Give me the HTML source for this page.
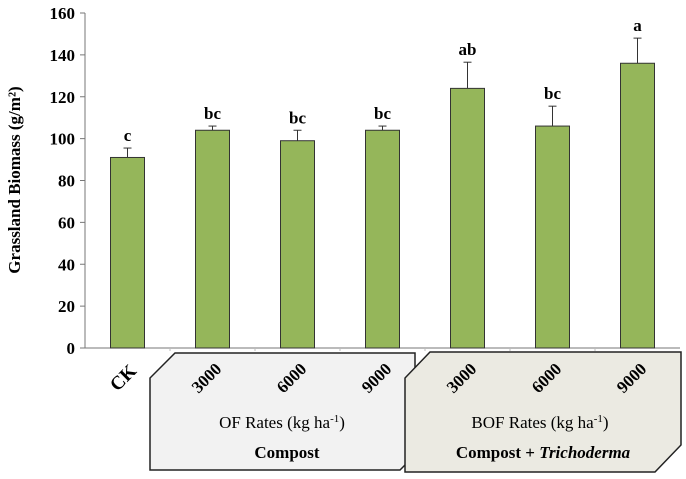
<!DOCTYPE html>
<html><head><meta charset="utf-8"><style>
html,body{margin:0;padding:0;background:#fff;}
svg{display:block;font-family:"Liberation Serif",serif;}
</style></head><body>
<svg id="chart" width="686" height="479"></svg>
<script>
const categories=["CK","3000","6000","9000","3000","6000","9000"];
const values=[91,104,99,104,124,106,136];
const errors=[4.5,2,5,2,12.5,9.5,12];
const letters=["c","bc","bc","bc","ab","bc","a"];
const yTicks=[0,20,40,60,80,100,120,140,160];

const svg=document.getElementById('chart');
const NS='http://www.w3.org/2000/svg';
const x0=85,x1=680,yTop=13,yBot=348,yMax=160;
const slot=(x1-x0)/categories.length;
const y=v=>yBot-(v/yMax)*(yBot-yTop);
const xc=i=>x0+slot*(i+0.5);
function mk(t,a,txt){const e=document.createElementNS(NS,t);for(const k in a)e.setAttribute(k,a[k]);if(txt!==undefined)e.textContent=txt;svg.appendChild(e);return e;}

let b1=mk('polygon',{points:'175,353 415,353 415,455 400,470 150,470 150,378',fill:'#f2f2f2',stroke:'#222','stroke-width':1.5});


let b2=mk('polygon',{points:'430,352 681,352 681,445 655,472 405,472 405,378',fill:'#ebeae2',stroke:'#222','stroke-width':1.5});



let ya=mk('line',{x1:x0,y1:yTop,x2:x0,y2:yBot,stroke:'#777','stroke-width':1});


let xa=mk('line',{x1:x0,y1:yBot,x2:x1,y2:yBot,stroke:'#777','stroke-width':1});



yTicks.forEach(t=>{
  let tk=mk('line',{x1:x0-5,y1:y(t),x2:x0,y2:y(t),stroke:'#777'});
  
  
  let lb=mk('text',{x:x0-10,y:y(t)+6,'text-anchor':'end','font-size':17,'font-weight':'bold'},t);
  
  
});
for(let i=1;i<categories.length;i++){
  let tk=mk('line',{x1:x0+slot*i,y1:yBot,x2:x0+slot*i,y2:yBot+3,stroke:'#bbb'});
  
  
}
let yt=mk('text',{x:0,y:0,transform:'translate(20,180) rotate(-90)','text-anchor':'middle','font-size':17,'font-weight':'bold'},'Grassland Biomass (g/m²)');



const bw=34;
values.forEach((v,i)=>{
  const cx=xc(i);
  let r=mk('rect',{x:cx-bw/2,y:y(v),width:bw,height:yBot-y(v),fill:'#95b65a',stroke:'#333','stroke-width':1});
  
  
  const et=y(v+errors[i]);
  let e1=mk('line',{x1:cx,y1:y(v),x2:cx,y2:et,stroke:'#333','stroke-width':1});
  
  
  let e2=mk('line',{x1:cx-4,y1:et,x2:cx+4,y2:et,stroke:'#333','stroke-width':1});
  
  
  let l=mk('text',{x:cx,y:et-7,'text-anchor':'middle','font-size':17,'font-weight':'bold'},letters[i]);
  
  
  let cl=mk('text',{x:0,y:0,transform:`translate(${cx+10},${i===0?372:370}) rotate(-45)`,'text-anchor':'end','font-size':i===0?19:17,'font-weight':'bold'},categories[i]);
  
  
});

let t1=mk('text',{x:282,y:428,'text-anchor':'middle','font-size':17});
t1.innerHTML='OF Rates (kg ha<tspan font-size="11" dy="-6">-1</tspan><tspan dy="6">)</tspan>';


let t2=mk('text',{x:287,y:458,'text-anchor':'middle','font-size':17,'font-weight':'bold'},'Compost');


let t3=mk('text',{x:540,y:428,'text-anchor':'middle','font-size':17});
t3.innerHTML='BOF Rates (kg ha<tspan font-size="11" dy="-6">-1</tspan><tspan dy="6">)</tspan>';


let t4=mk('text',{x:543,y:458,'text-anchor':'middle','font-size':17,'font-weight':'bold'});
t4.innerHTML='Compost  + <tspan font-style="italic">Trichoderma</tspan>';


</script>
</body></html>
